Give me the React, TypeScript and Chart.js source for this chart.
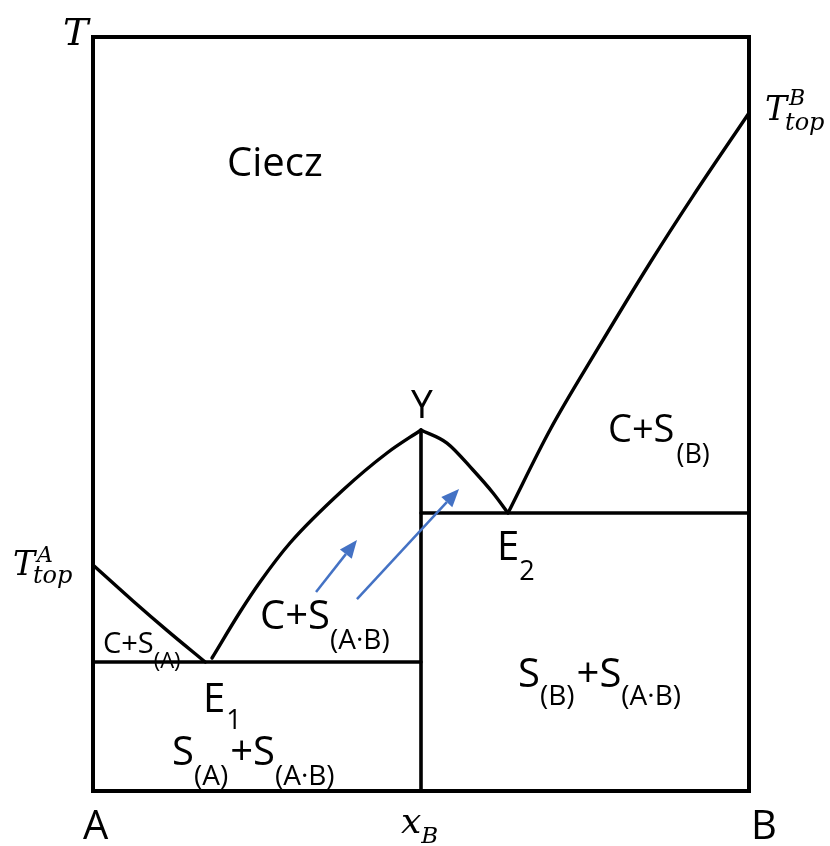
import { useEffect, useRef } from "react";
import { Chart, registerables } from "chart.js";

Chart.register(...registerables);

const W = 830;
const H = 846;

// Composition axis: 0 = pure A, 1 = pure B. Temperature in relative units 0..100.
const liquidusA_x = [0, 0.061, 0.1128, 0.171];
const liquidusA_T = [29.97, 25.2, 21.3, 17.1];

const liquidusAB1_x = [0.1814, 0.2241, 0.2546, 0.3003, 0.3811, 0.4482, 0.5];
const liquidusAB1_T = [17.64, 23.74, 27.72, 32.89, 39.92, 44.83, 47.88];

const liquidusAB2_x = [0.5, 0.5396, 0.5793, 0.6098, 0.6326];
const liquidusAB2_T = [47.88, 46.15, 42.57, 39.52, 36.87];

const liquidusB_x = [0.6326, 0.6966, 0.7683, 0.849, 0.9146, 1.0];
const liquidusB_T = [36.87, 47.88, 58.49, 70.03, 78.9, 89.92];

// Eutectic temperatures and the congruently melting compound A·B
const eutectic1_T = 17.1;
const eutectic2_T = 36.87;
const compound_x = 0.5;
const compound_T = 47.88;

// Blue arrows: [x0, T0, x1, T1]
const arrows: number[][] = [
  [0.34, 26.39, 0.4024, 33.29],
  [0.4024, 25.46, 0.558, 40.05],
];

type Run = { t: string; size: number; dy?: number; dx?: number; math?: boolean; stay?: boolean };
type Label = { x: number; T: number; align?: "left" | "center"; runs: Run[] };

const labels: Label[] = [
  { x: 0.2043, T: 81.56, runs: [{ t: "Ciecz", size: 40 }] },
  { x: 0.5015, T: 49.47, align: "center", runs: [{ t: "Y", size: 39 }] },
  { x: 0.785, T: 46.29, runs: [{ t: "C+S", size: 38 }, { t: "(B)", size: 27, dy: 21, dx: 2 }] },
  { x: 0.6159, T: 30.64, runs: [{ t: "E", size: 40 }, { t: "2", size: 27, dy: 20 }] },
  { x: 0.2546, T: 21.49, runs: [{ t: "C+S", size: 40 }, { t: "(A·B)", size: 28, dy: 20 }] },
  { x: 0.0152, T: 18.3, runs: [{ t: "C+S", size: 29 }, { t: "(A)", size: 22, dy: 15 }] },
  { x: 0.1677, T: 10.48, runs: [{ t: "E", size: 40 }, { t: "1", size: 27, dy: 17, dx: 1 }] },
  {
    x: 0.1204,
    T: 3.45,
    runs: [
      { t: "S", size: 40 },
      { t: "(A)", size: 28, dy: 20 },
      { t: "+S", size: 40, dx: 2 },
      { t: "(A·B)", size: 28, dy: 20 },
    ],
  },
  {
    x: 0.6479,
    T: 13.79,
    runs: [
      { t: "S", size: 40 },
      { t: "(B)", size: 28, dy: 18 },
      { t: "+S", size: 40, dx: 2 },
      { t: "(A·B)", size: 28, dy: 18 },
    ],
  },
  { x: -0.0152, T: -6.37, runs: [{ t: "A", size: 40 }] },
  { x: 1.003, T: -6.37, runs: [{ t: "B", size: 40 }] },
  { x: 0.4695, T: -5.57, runs: [{ t: "x", size: 36, math: true }, { t: "B", size: 23, dy: 10, math: true }] },
  { x: -0.0457, T: 98.94, runs: [{ t: "T", size: 38, math: true }] },
  {
    x: -0.122,
    T: 28.65,
    runs: [
      { t: "T", size: 33, math: true },
      { t: "A", size: 22, dy: -13, dx: 2, math: true, stay: true },
      { t: "top", size: 24, dy: 8, dx: -2, math: true },
    ],
  },
  {
    x: 1.0244,
    T: 88.99,
    runs: [
      { t: "T", size: 33, math: true },
      { t: "B", size: 22, dy: -15, dx: 2, math: true, stay: true },
      { t: "top", size: 24, dy: 10, dx: -2, math: true },
    ],
  },
];

const zip = (xs: number[], ys: number[]) => xs.map((x, i) => ({ x, y: ys[i] }));

const fontOf = (r: Run) =>
  r.math ? `italic ${r.size}px "DejaVu Serif"` : `${r.size}px "Open Sans"`;

const overlay = {
  id: "phaseOverlay",
  afterDatasetsDraw(chart: Chart) {
    const ctx = chart.ctx;
    const sx = chart.scales.x;
    const sy = chart.scales.y;

    // arrows
    ctx.save();
    ctx.strokeStyle = "#4472C4";
    ctx.fillStyle = "#4472C4";
    ctx.lineWidth = 2.5;
    for (const [x0, t0, x1, t1] of arrows) {
      const px0 = sx.getPixelForValue(x0);
      const py0 = sy.getPixelForValue(t0);
      const px1 = sx.getPixelForValue(x1);
      const py1 = sy.getPixelForValue(t1);
      const ang = Math.atan2(py1 - py0, px1 - px0);
      const headLen = 18;
      const headHalf = 7.5;
      const bx = px1 - headLen * Math.cos(ang);
      const by = py1 - headLen * Math.sin(ang);
      ctx.beginPath();
      ctx.moveTo(px0, py0);
      ctx.lineTo(bx, by);
      ctx.stroke();
      ctx.beginPath();
      ctx.moveTo(px1, py1);
      ctx.lineTo(bx + headHalf * Math.sin(ang), by - headHalf * Math.cos(ang));
      ctx.lineTo(bx - headHalf * Math.sin(ang), by + headHalf * Math.cos(ang));
      ctx.closePath();
      ctx.fill();
    }
    ctx.restore();

    // labels
    ctx.save();
    ctx.fillStyle = "#000";
    ctx.textBaseline = "alphabetic";
    ctx.textAlign = "left";
    for (const lb of labels) {
      let total = 0;
      for (const r of lb.runs) {
        ctx.font = fontOf(r);
        if (!r.stay) total += ctx.measureText(r.t).width + (r.dx || 0);
      }
      let px = sx.getPixelForValue(lb.x);
      const py = sy.getPixelForValue(lb.T);
      if (lb.align === "center") px -= total / 2;
      for (const r of lb.runs) {
        ctx.font = fontOf(r);
        const w = ctx.measureText(r.t).width;
        ctx.fillText(r.t, px + (r.dx || 0), py + (r.dy || 0));
        if (!r.stay) px += w + (r.dx || 0);
      }
    }
    ctx.restore();
  },
};

export default function App() {
  const ref = useRef<HTMLCanvasElement>(null);

  useEffect(() => {
    const canvas = ref.current;
    if (!canvas) return;

    const curve = (data: { x: number; y: number }[], width = 3.4) => ({
      data,
      showLine: true,
      borderColor: "#000",
      backgroundColor: "#000",
      borderWidth: width,
      pointRadius: 0,
      cubicInterpolationMode: "monotone" as const,
      borderJoinStyle: "round" as const,
      borderCapStyle: "round" as const,
      clip: false as const,
    });

    const straight = (data: { x: number; y: number }[], width: number) => ({
      ...curve(data, width),
      cubicInterpolationMode: "default" as const,
      tension: 0,
    });

    const chart = new Chart(canvas, {
      type: "scatter",
      data: {
        datasets: [
          {
            ...straight(
              [
                { x: 0, y: 0 },
                { x: 0, y: 100 },
                { x: 1, y: 100 },
                { x: 1, y: 0 },
                { x: 0, y: 0 },
              ],
              4
            ),
            borderJoinStyle: "miter" as const,
            borderCapStyle: "square" as const,
          },
          curve(zip(liquidusA_x, liquidusA_T)),
          curve(zip(liquidusAB1_x, liquidusAB1_T)),
          curve(zip(liquidusAB2_x, liquidusAB2_T)),
          curve(zip(liquidusB_x, liquidusB_T)),
          straight([{ x: 0, y: eutectic1_T }, { x: compound_x, y: eutectic1_T }], 3.4),
          straight([{ x: compound_x, y: eutectic2_T }, { x: 1, y: eutectic2_T }], 3.4),
          straight([{ x: compound_x, y: compound_T }, { x: compound_x, y: 0 }], 3.6),
        ],
      },
      options: {
        responsive: false,
        animation: false,
        events: [],
        layout: { padding: { left: 93, top: 37, right: 81, bottom: 55 } },
        scales: {
          x: { type: "linear", min: 0, max: 1, display: false },
          y: { type: "linear", min: 0, max: 100, display: false },
        },
        plugins: {
          legend: { display: false },
          tooltip: { enabled: false },
        },
      },
      plugins: [overlay],
    });

    return () => chart.destroy();
  }, []);

  return (
    <div style={{ position: "fixed", left: 0, top: 0, width: W, height: H, background: "#fff" }}>
      <canvas ref={ref} width={W} height={H} style={{ display: "block" }} />
    </div>
  );
}
